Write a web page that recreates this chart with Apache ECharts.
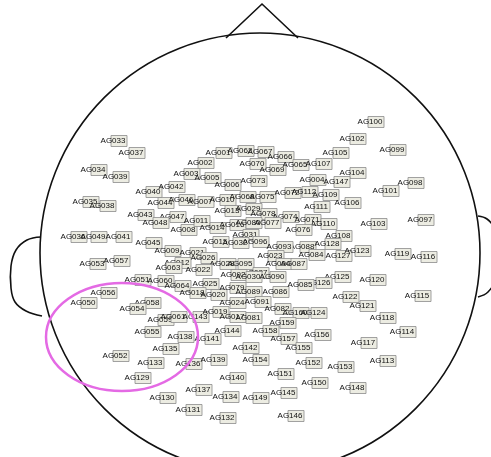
<!DOCTYPE html>
<html>
<head>
<meta charset="utf-8">
<script src="https://cdn.jsdelivr.net/npm/echarts@6/dist/echarts.min.js"></script>
<style>
  html, body { margin: 0; padding: 0; background: #fff; }
  #chart { width: 491px; height: 457px; }
</style>
</head>
<body>
<div id="chart"></div>
<script>
// sensor labels and their positions on the head plot
const sensorNames = [
  "AG033", "AG037", "AG034", "AG039", "AG040", "AG042", "AG003", "AG002", "AG001", "AG062",
  "AG067", "AG066", "AG005", "AG006", "AG070", "AG069", "AG065", "AG073", "AG107", "AG105",
  "AG102", "AG100", "AG099", "AG104", "AG004", "AG147", "AG098", "AG101", "AG035", "AG038",
  "AG044", "AG046", "AG007", "AG010", "AG068", "AG075", "AG072", "AG112", "AG109", "AG111",
  "AG106", "AG043", "AG047", "AG048", "AG008", "AG011", "AG013", "AG029", "AG078", "AG074",
  "AG071", "AG110", "AG103", "AG097", "AG014", "AG016", "AG080", "AG077", "AG076", "AG108",
  "AG036", "AG049", "AG041", "AG045", "AG031", "AG015", "AG032", "AG096", "AG088", "AG128",
  "AG009", "AG021", "AG026", "AG093", "AG023", "AG084", "AG127", "AG123", "AG119", "AG116",
  "AG053", "AG057", "AG012", "AG063", "AG028", "AG095", "AG094", "AG087", "AG022", "AG027",
  "AG092", "AG030", "AG090", "AG125", "AG126", "AG120", "AG051", "AG060", "AG064", "AG025",
  "AG018", "AG020", "AG079", "AG089", "AG086", "AG085", "AG122", "AG115", "AG056", "AG050",
  "AG058", "AG054", "AG024", "AG091", "AG082", "AG160", "AG124", "AG121", "AG059", "AG061",
  "AG143", "AG019", "AG017", "AG081", "AG159", "AG118", "AG055", "AG138", "AG144", "AG158",
  "AG114", "AG141", "AG157", "AG156", "AG117", "AG135", "AG142", "AG155", "AG052", "AG133",
  "AG136", "AG139", "AG154", "AG152", "AG153", "AG113", "AG129", "AG140", "AG151", "AG150",
  "AG148", "AG137", "AG134", "AG149", "AG145", "AG130", "AG131", "AG132", "AG146"
];
const sensorX = [
  113, 131, 93, 115, 148, 171, 186, 200, 218, 240,
  260, 280, 207, 227, 252, 272, 295, 253, 318, 335,
  352, 370, 392, 352, 312, 336, 410, 385, 85, 102,
  160, 181, 200, 222, 242, 262, 287, 304, 325, 316,
  347, 140, 172, 155, 183, 196, 227, 248, 263, 285,
  307, 323, 373, 420, 212, 232, 248, 267, 298, 338,
  73, 93, 118, 148, 245, 215, 235, 255, 302, 327,
  167, 192, 203, 279, 270, 311, 338, 357, 397, 423,
  92, 116, 177, 168, 222, 240, 278, 293, 198, 255,
  233, 248, 272, 337, 318, 372, 137, 160, 177, 205,
  192, 213, 232, 248, 275, 300, 345, 417, 103, 83,
  147, 132, 232, 257, 277, 295, 313, 362, 160, 173,
  195, 215, 232, 248, 282, 382, 147, 180, 227, 265,
  402, 207, 283, 317, 363, 165, 245, 298, 115, 150,
  188, 213, 255, 308, 340, 382, 137, 232, 280, 314,
  352, 198, 225, 255, 283, 162, 188, 222, 290
];
const sensorY = [
  141, 153, 170, 177, 192, 187, 174, 163, 153, 151,
  152, 157, 178, 185, 164, 170, 165, 181, 164, 153,
  139, 122, 150, 173, 180, 182, 183, 191, 202, 206,
  203, 200, 202, 200, 197, 197, 193, 192, 195, 207,
  203, 215, 217, 223, 230, 221, 211, 209, 214, 217,
  220, 224, 224, 220, 228, 225, 223, 223, 230, 236,
  237, 237, 237, 243, 235, 242, 243, 242, 247, 244,
  251, 253, 258, 247, 256, 255, 256, 251, 254, 257,
  264, 261, 263, 268, 264, 264, 264, 264, 270, 273,
  275, 277, 277, 277, 283, 280, 280, 281, 286, 284,
  293, 295, 288, 292, 292, 285, 297, 296, 293, 303,
  303, 309, 303, 302, 309, 313, 313, 306, 320, 317,
  317, 312, 317, 318, 323, 318, 332, 337, 331, 331,
  332, 339, 339, 335, 343, 349, 348, 348, 356, 363,
  364, 360, 360, 363, 367, 361, 378, 378, 374, 383,
  388, 390, 397, 398, 393, 398, 410, 418, 416
];

// head outline geometry (in the same pixel-like data units as the sensors)
const headCenter = [260, 253];
const headRadius = 220;
const nosePoints = [[226, 38], [262, 4], [298, 38]];
const leftEar = [[41, 237], [27, 240], [16, 250], [11, 266], [11, 288], [15, 302], [26, 311], [42, 316]];
const rightEar = [[478, 216], [487, 219], [494, 228], [497, 252], [495, 280], [488, 292], [478, 297]];
const highlightCenter = [122, 337];
const highlightRadii = [76, 54];

const chart = echarts.init(document.getElementById("chart"));

const sensorData = sensorX.map((x, i) => [x, sensorY[i]]);

const option = {
  animation: false,
  grid: { left: 0, right: 0, top: 0, bottom: 0 },
  xAxis: { type: "value", min: 0, max: 491, show: false },
  yAxis: { type: "value", min: 0, max: 457, inverse: true, show: false },
  series: [
    {
      // head, nose, ears
      type: "custom",
      silent: true,
      clip: false,
      data: [[0, 0]],
      renderItem: function (params, api) {
        const c = api.coord(headCenter);
        const edge = api.coord([headCenter[0] + headRadius, headCenter[1]]);
        const r = edge[0] - c[0];
        const line = { stroke: "#111", lineWidth: 1.6, fill: null };
        return {
          type: "group",
          children: [
            { type: "circle", shape: { cx: c[0], cy: c[1], r: r }, style: line },
            { type: "polyline", shape: { points: nosePoints.map((p) => api.coord(p)) }, style: line },
            { type: "polyline", shape: { points: leftEar.map((p) => api.coord(p)), smooth: 0.4 }, style: line },
            { type: "polyline", shape: { points: rightEar.map((p) => api.coord(p)), smooth: 0.4 }, style: line },
          ],
        };
      },
    },
    {
      // sensor labels with little boxes
      type: "custom",
      silent: true,
      clip: false,
      data: sensorData,
      renderItem: function (params, api) {
        const p = api.coord([api.value(0), api.value(1)]);
        return {
          type: "group",
          children: [
            {
              type: "rect",
              shape: { x: p[0] - 2, y: p[1] - 5.5, width: 16, height: 11 },
              style: { fill: "#ecece2", stroke: "#8c8c8c", lineWidth: 0.8 },
            },
            {
              type: "text",
              x: p[0],
              y: p[1],
              style: {
                text: sensorNames[params.dataIndex],
                fontSize: 8,
                fontFamily: "Liberation Sans",
                fill: "#111",
                align: "center",
                verticalAlign: "middle",
              },
            },
          ],
        };
      },
    },
    {
      // pink highlight ellipse
      type: "custom",
      silent: true,
      clip: false,
      data: [[0, 0]],
      renderItem: function (params, api) {
        const c = api.coord(highlightCenter);
        const e = api.coord([highlightCenter[0] + highlightRadii[0], highlightCenter[1] + highlightRadii[1]]);
        return {
          type: "ellipse",
          shape: { cx: c[0], cy: c[1], rx: e[0] - c[0], ry: e[1] - c[1] },
          style: { fill: null, stroke: "#e46ae4", lineWidth: 2.5 },
        };
      },
    },
  ],
};

chart.setOption(option);
</script>
</body>
</html>
